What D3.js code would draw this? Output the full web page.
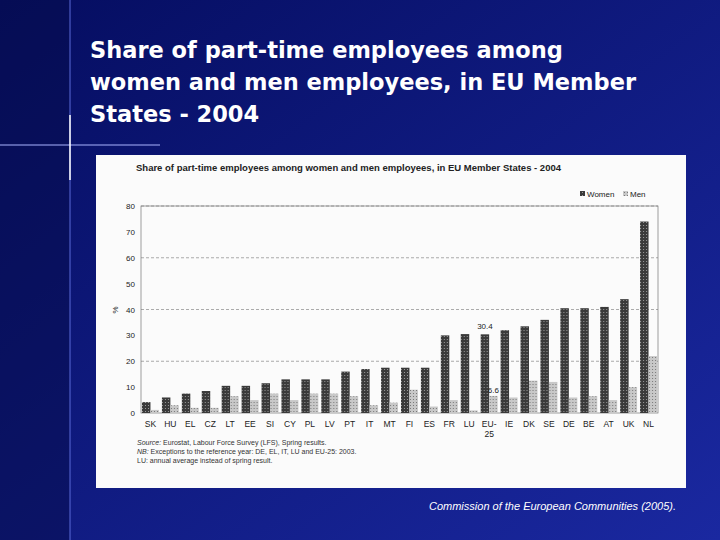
<!DOCTYPE html>
<html><head><meta charset="utf-8">
<script src="https://cdn.jsdelivr.net/npm/d3@7"></script>
<style>body{margin:0;background:#0a1470;}</style>
</head><body><svg id="c" width="720" height="540"></svg>
<script>
// data
const countries = ["SK","HU","EL","CZ","LT","EE","SI","CY","PL","LV","PT","IT","MT","FI","ES","FR","LU","EU-25","IE","DK","SE","DE","BE","AT","UK","NL"];
const women = [4.2,6,7.5,8.5,10.5,10.5,11.5,13,13,13,16,17,17.5,17.5,17.5,30,30.5,30.4,32,33.5,36,40.5,40.5,41,44,74];
const men = [1.2,3,2,2,6.5,5,7.5,5,7.5,7.5,6.5,3,4,9,2.5,5,1,6.6,6,12.5,12,6,6.5,5,10,22];
const yTicks = [0,10,20,30,40,50,60,70,80];

const svg = d3.select("#c");
const defs = svg.append("defs");
const bg = defs.append("linearGradient").attr("id","bg").attr("x1",0).attr("y1",0).attr("x2",1).attr("y2",1);
bg.append("stop").attr("offset","0").attr("stop-color","#050d60");
bg.append("stop").attr("offset","1").attr("stop-color","#1a28a0");
svg.append("rect").attr("width",720).attr("height",540).attr("fill","url(#bg)");
// decorative left band and cross
svg.append("rect").attr("x",0).attr("y",0).attr("width",70).attr("height",540).attr("fill","#050c4a").attr("opacity",0.5);
svg.append("line").attr("x1",70).attr("x2",70).attr("y1",0).attr("y2",540).attr("stroke","#5a6ad8").attr("stroke-width",1);
svg.append("line").attr("x1",0).attr("x2",160).attr("y1",145).attr("y2",145).attr("stroke","#aab4ff").attr("stroke-width",1);
svg.append("line").attr("x1",70).attr("x2",70).attr("y1",115).attr("y2",180).attr("stroke","#ffffff").attr("stroke-width",1.5);

// title
const title = ["Share of part-time employees among","women and men employees, in EU Member","States - 2004"];
svg.append("g").selectAll("text").data(title).join("text")
  .attr("x",90).attr("y",(d,i)=>58+i*32)
  .attr("fill","#fff").attr("font-family","Verdana, DejaVu Sans, sans-serif")
  .attr("font-weight","bold").attr("font-size",22.5).text(d=>d);

// white chart panel
svg.append("rect").attr("x",96).attr("y",155).attr("width",590).attr("height",333).attr("fill","#fbfbfb");

// patterns
function pat(id, fill, dot){
  const p = defs.append("pattern").attr("id",id).attr("width",3).attr("height",3).attr("patternUnits","userSpaceOnUse");
  p.append("rect").attr("width",3).attr("height",3).attr("fill",fill);
  p.append("rect").attr("width",1).attr("height",1).attr("fill",dot);
}
pat("pw","#3a3a3a","#9a9a9a");
pat("pm","#c8c8c8","#7a7a7a");

const f = "Arial, Liberation Sans, sans-serif";
svg.append("text").attr("x",136).attr("y",171).attr("font-family",f).attr("font-size",9.5).attr("font-weight","bold").attr("fill","#222")
  .text("Share of part-time employees among women and men employees, in EU Member States - 2004");

const x0 = d3.scaleBand().domain(countries).range([141,658]).paddingInner(0.15).paddingOuter(0.05);
const x1 = d3.scaleBand().domain(["w","m"]).range([0,x0.bandwidth()]);
const y = d3.scaleLinear().domain([0,80]).range([413,206]);

// gridlines
svg.append("g").selectAll("line").data(yTicks.filter(d=>d>0 && d%20===0)).join("line")
  .attr("x1",141).attr("x2",658).attr("y1",d=>y(d)).attr("y2",d=>y(d))
  .attr("stroke","#888").attr("stroke-dasharray","3,2").attr("stroke-width",0.7);
svg.append("rect").attr("x",141).attr("y",206).attr("width",517).attr("height",207).attr("fill","none").attr("stroke","#777").attr("stroke-width",0.7);

const ax = svg.append("g").attr("transform","translate(141,0)")
  .call(d3.axisLeft(y).tickValues(yTicks).tickSize(0).tickPadding(6));
ax.select(".domain").remove();
ax.selectAll("text").attr("font-family",f).attr("font-size",8).attr("fill","#222");
svg.append("text").attr("transform","translate(118,310) rotate(-90)").attr("text-anchor","middle")
  .attr("font-family",f).attr("font-size",8).attr("fill","#222").text("%");

const g = svg.append("g").selectAll("g").data(countries).join("g").attr("transform",d=>`translate(${x0(d)},0)`);
g.append("rect").attr("x",x1("w")).attr("width",x1.bandwidth()).attr("y",(d,i)=>y(women[i])).attr("height",(d,i)=>413-y(women[i]))
  .attr("fill","url(#pw)");
g.append("rect").attr("x",x1("m")).attr("width",x1.bandwidth()).attr("y",(d,i)=>y(men[i])).attr("height",(d,i)=>413-y(men[i]))
  .attr("fill","url(#pm)");

// x labels
g.append("text").attr("x",x0.bandwidth()/2).attr("y",427).attr("text-anchor","middle")
  .attr("font-family",f).attr("font-size",8.5).attr("fill","#222")
  .each(function(d){
    const t = d3.select(this);
    if(d==="EU-25"){ t.append("tspan").attr("x",x0.bandwidth()/2).text("EU-"); t.append("tspan").attr("x",x0.bandwidth()/2).attr("dy",10).text("25"); }
    else t.text(d);
  });

// value labels for EU-25
const ei = countries.indexOf("EU-25");
svg.append("text").attr("x",x0("EU-25")+x1("w")+x1.bandwidth()/2).attr("y",y(women[ei])-5).attr("text-anchor","middle")
  .attr("font-family",f).attr("font-size",8).attr("fill","#222").text(women[ei]);
svg.append("text").attr("x",x0("EU-25")+x1("m")+x1.bandwidth()/2).attr("y",y(men[ei])-3).attr("text-anchor","middle")
  .attr("font-family",f).attr("font-size",8).attr("fill","#222").text(men[ei]);

// legend
const lg = svg.append("g").attr("font-family",f).attr("font-size",8).attr("fill","#222");
lg.append("rect").attr("x",580).attr("y",191).attr("width",5).attr("height",5).attr("fill","url(#pw)");
lg.append("text").attr("x",587).attr("y",197).text("Women");
lg.append("rect").attr("x",623).attr("y",191).attr("width",5).attr("height",5).attr("fill","url(#pm)");
lg.append("text").attr("x",630).attr("y",197).text("Men");

// notes
const notes = [["Source:"," Eurostat, Labour Force Survey (LFS), Spring results."],["NB:"," Exceptions to the reference year: DE, EL, IT, LU and EU-25: 2003."],["","LU: annual average instead of spring result."]];
const nt = svg.append("g").selectAll("text").data(notes).join("text")
  .attr("x",137).attr("y",(d,i)=>445+i*9).attr("font-family",f).attr("font-size",7).attr("fill","#333");
nt.append("tspan").attr("font-style","italic").text(d=>d[0]);
nt.append("tspan").text(d=>d[1]);

svg.append("text").attr("x",676).attr("y",510).attr("text-anchor","end").attr("font-family",f)
  .attr("font-style","italic").attr("font-size",11).attr("fill","#fff")
  .text("Commission of the European Communities (2005).");
</script></body></html>
